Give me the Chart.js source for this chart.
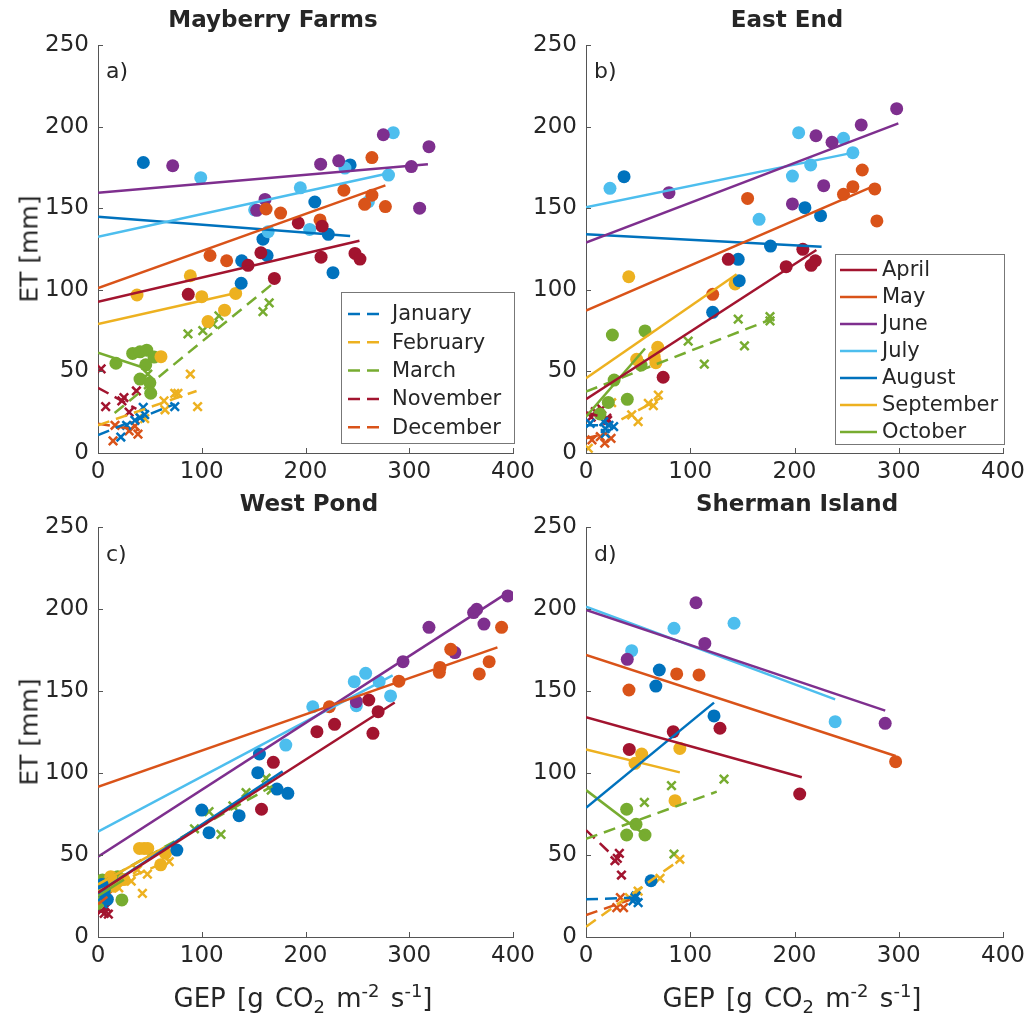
<!DOCTYPE html>
<html>
<head>
<meta charset="utf-8">
<script src="https://cdn.jsdelivr.net/npm/chart.js@4.4.0/dist/chart.umd.min.js"></script>
<style>
  body { margin:0; background:#fff; width:1036px; height:1022px; position:relative; overflow:hidden;
         font-family:"DejaVu Sans", sans-serif; color:#262626; }
  canvas { position:absolute; }
  .ttl { position:absolute; font-weight:bold; font-size:23px; white-space:nowrap; transform:translateX(-50%); }
  .tag { position:absolute; font-size:22px; }
  .ylab { position:absolute; font-size:25px; white-space:nowrap; transform:translate(-50%,-50%) rotate(-90deg); }
  .xlab { position:absolute; font-size:26px; white-space:nowrap; transform:translateX(-50%); word-spacing:3px; }
  .xlab sub, .xlab sup { font-size:18px; }
</style>
</head>
<body>
<canvas id="cA" width="540" height="511" style="left:0;top:0"></canvas>
<canvas id="cB" width="546" height="511" style="left:490px;top:0"></canvas>
<canvas id="cC" width="540" height="532" style="left:0;top:490px"></canvas>
<canvas id="cD" width="546" height="532" style="left:490px;top:490px"></canvas>

<div class="ttl" style="left:273px;top:6px">Mayberry Farms</div>
<div class="ttl" style="left:787px;top:6px">East End</div>
<div class="ttl" style="left:309px;top:490px">West Pond</div>
<div class="ttl" style="left:797px;top:490px">Sherman Island</div>

<div class="tag" style="left:106px;top:58px">a)</div>
<div class="tag" style="left:594px;top:58px">b)</div>
<div class="tag" style="left:106px;top:541px">c)</div>
<div class="tag" style="left:594px;top:541px">d)</div>

<div class="ylab" style="left:29px;top:249px">ET [mm]</div>
<div class="ylab" style="left:29px;top:732px">ET [mm]</div>
<div class="xlab" style="left:303px;top:980px">GEP [g CO<sub>2</sub> m<sup>-2</sup> s<sup>-1</sup>]</div>
<div class="xlab" style="left:792px;top:980px">GEP [g CO<sub>2</sub> m<sup>-2</sup> s<sup>-1</sup>]</div>

<script>
// month keys, names and colours (MATLAB default order)
const monthKeys  = ['Apr','May','Jun','Jul','Aug','Sep','Oct','Jan','Feb','Mar','Nov','Dec'];
const monthNames = ['April','May','June','July','August','September','October','January','February','March','November','December'];
const monthColors = ['#A2142F','#D95319','#7E2F8E','#4DBEEE','#0072BD','#EDB120','#77AC30',
                     '#0072BD','#EDB120','#77AC30','#A2142F','#D95319'];
const growingSeason = ['Apr','May','Jun','Jul','Aug','Sep','Oct'];

const xTicks = [0, 100, 200, 300, 400];
const yTicks = [0, 50, 100, 150, 200, 250];

// [month, GEP, ET]
const mayberryPts = [
  ['Aug',43.7,178],['Aug',243,176.5],['Aug',209,153.8],['Aug',222,134],['Aug',159,131],['Aug',138.5,117.8],['Aug',163,121],['Aug',226.5,110.5],['Aug',138,104],
  ['Jun',72,176],['Jun',214.6,177],['Jun',232,179],['Jun',161,155.4],['Jun',153,148.7],['Jun',275,195],['Jun',319,187.7],['Jun',302,175.5],['Jun',310,150],
  ['Jul',99,168.7],['Jul',238,174.6],['Jul',195,162.5],['Jul',151,149],['Jul',164,135.6],['Jul',204,137],['Jul',284.6,196.3],['Jul',280,170.3],['Jul',260.6,154],
  ['May',237,161],['May',162,149.5],['May',176,147],['May',214,142.8],['May',108,121],['May',124,117.8],['May',264,181],['May',264,158],['May',257,152.4],['May',277,151],
  ['Apr',193,141],['Apr',216,139],['Apr',144.6,115],['Apr',157,122.7],['Apr',215,120],['Apr',247.7,122.3],['Apr',252.5,118.8],['Apr',170,107],['Apr',87,97.2],
  ['Sep',89,108.6],['Sep',37.6,96.8],['Sep',100,95.8],['Sep',132.7,97.8],['Sep',122,87.5],['Sep',106,80.5],['Sep',60.7,59],
  ['Oct',17.3,55],['Oct',33.4,61],['Oct',40.5,62],['Oct',47,63],['Oct',54,58.8],['Oct',46,54],['Oct',40.5,45.3],['Oct',50,43],['Oct',50.8,36.6],
  ['Mar',116.6,84],['Mar',111,79],['Mar',101,75],['Mar',86.7,73],['Mar',159,86.6],['Mar',165,92],['Mar',48,48.4],
  ['Feb',89,48.4],['Feb',74,36.6],['Feb',77,36.6],['Feb',63.6,31.9],['Feb',96,28.4],['Feb',64.6,26.5],['Feb',45,21],
  ['Jan',74,28.4],['Jan',43.6,28],['Jan',45,23.5],['Jan',40.5,21.6],['Jan',35.6,20],['Jan',27.6,17],['Jan',22,9.8],
  ['Nov',3,51.5],['Nov',7.4,28.4],['Nov',25,34],['Nov',23,32],['Nov',37,38],['Nov',30,25],
  ['Dec',16.4,17],['Dec',35.6,16.5],['Dec',38.5,11.6],['Dec',14.5,7.4],['Dec',30,13.5]
];
// [month, x0, y0, x1, y1] fitted lines
const mayberryFits = [
  ['Apr',0,92.7,252,130],['May',0,101,277,164],['Jun',0,159.5,318,177],['Jul',0,132.5,277,171],
  ['Aug',0,144.8,243,133],['Sep',0,79,133,98],['Oct',0,61.5,50,51],
  ['Jan',0,11,74,30],['Feb',0,17,95,38],['Mar',16,24.5,167,103],['Nov',0,40,37,27],['Dec',0,18,40,14]
];

const eastEndPts = [
  ['Jun',298,211],['Jun',264,201],['Jun',220.6,194.4],['Jun',236,190.4],['Jun',228,163.8],['Jun',198,152.6],['Jun',79.6,159.5],
  ['Jul',247,192.8],['Jul',204,196.3],['Jul',256,184],['Jul',215.5,176.5],['Jul',198,169.7],['Jul',166,143.2],['Jul',23,162.2],
  ['May',265,173.4],['May',256,163.2],['May',247,158.5],['May',277,161.8],['May',279,142.2],['May',155,156],['May',121.5,97.2],
  ['Aug',36.5,169.3],['Aug',210,150.3],['Aug',225,145.4],['Aug',177,126.8],['Aug',146,118.7],['Aug',147,105.6],['Aug',121.5,86.2],
  ['Apr',208,124.8],['Apr',136.5,118.7],['Apr',192,114.2],['Apr',216,115],['Apr',220,117.8],['Apr',74,46.4],
  ['Sep',41,108],['Sep',143,103.6],['Sep',48.6,57.4],['Sep',67,55.3],['Sep',65.5,59],['Sep',68.8,64.8],
  ['Oct',25.3,72.3],['Oct',56.6,74.8],['Oct',52.8,53.9],['Oct',27,44.7],['Oct',39.6,32.9],['Oct',21.4,31],['Oct',13.4,23.9],
  ['Mar',98,68.6],['Mar',146,82],['Mar',176.5,83.5],['Mar',176.5,81],['Mar',152,65.7],['Mar',113.5,54.5],
  ['Feb',69.4,35.5],['Feb',59.8,30.4],['Feb',64.6,29],['Feb',43.8,23.3],['Feb',50,19.2],['Feb',24.6,30.8],['Feb',2.2,2.9],
  ['Jan',17,19.2],['Jan',18.5,15],['Jan',26.5,16.1],['Jan',4,18.2],['Jan',18.5,12],['Jan',22,17],
  ['Nov',9,25.3],['Nov',20,21.3],['Nov',20.7,20],['Nov',15,27],['Nov',5,22],
  ['Dec',5.7,8],['Dec',13.7,10],['Dec',24,9],['Dec',18,6]
];
const eastEndFits = [
  ['Apr',0,32.9,221,124.4],['May',0,87.2,277,163.8],['Jun',0,128.9,299.6,202],['Jul',0,150.5,253,183.6],
  ['Aug',0,134,226,126.4],['Sep',0,45.8,144.5,109.5],['Oct',0,22.3,56.6,64],
  ['Jan',0,17,12,17],['Feb',34,20.6,71,33.5],['Mar',0,37.6,178,82],['Nov',0,25,15,22],['Dec',0,9,20,12]
];

const westPondPts = [
  ['Jun',395,208],['Jun',365,199.8],['Jun',362,197.8],['Jun',372,190.8],['Jun',319,188.8],['Jun',344,173.4],['Jun',294,167.9],['Jun',249,143.5],
  ['May',389,188.8],['May',340,175.4],['May',377,167.9],['May',367.5,160.4],['May',329.6,164.4],['May',329,161.4],['May',290,156],['May',223,140.4],
  ['Jul',207,140.4],['Jul',247,155.7],['Jul',258,160.8],['Jul',271,155.7],['Jul',282,147],['Jul',249,141],['Jul',181,117],
  ['Apr',261,144.5],['Apr',270,137.4],['Apr',228,129.7],['Apr',211,125.2],['Apr',265,124.2],['Apr',169,106.5],['Apr',157.6,77.9],
  ['Aug',155.6,111.6],['Aug',154,100.2],['Aug',172.5,90.2],['Aug',183,87.6],['Aug',100,77.4],['Aug',136,74],['Aug',107,63.6],['Aug',76,53],['Aug',6,28.7],['Aug',9,23],['Aug',4,32],
  ['Sep',44.4,54],['Sep',40,54],['Sep',48,54],['Sep',60.4,44],['Sep',65,51],['Sep',12.3,36.8],['Sep',15.5,31],['Sep',25,35],
  ['Oct',4.2,34.8],['Oct',23,22.6],['Oct',0,20.5],['Oct',19,36.8],['Oct',8,30],
  ['Mar',162,96.8],['Mar',142.7,88],['Mar',107,76.4],['Mar',118.5,62.6],['Mar',167,89.6],['Mar',93,66],['Mar',130,80],
  ['Feb',68.6,46],['Feb',47.6,38.4],['Feb',42.8,26.6],['Feb',32,34],['Feb',38,41],['Feb',20,30],
  ['Jan',3,25],['Jan',5,20],['Jan',8,27],
  ['Nov',6,14.4],['Nov',3,16],['Nov',10,14],['Nov',8,18],
  ['Dec',5,22],['Dec',10,26]
];
const westPondFits = [
  ['Apr',0,27,286,143],['May',0,91.6,385,176.6],['Jun',0,49,390,208],['Jul',0,64.2,284,159.5],
  ['Aug',0,27,178,101],['Sep',0,32,65,55],['Oct',0,25,25,35],
  ['Jan',0,22,10,28],['Feb',0,28,70,47],['Mar',0,32,168,92],['Nov',0,15,10,17],['Dec',0,20,10,25]
];

const shermanPts = [
  ['Jun',105.5,203.8],['Jun',114,179],['Jun',39.6,169.3],['Jun',287,130.3],
  ['Jul',142,191.3],['Jul',84.4,188.2],['Jul',43.8,174.6],['Jul',239,131.3],
  ['May',87,160.4],['May',108.4,159.8],['May',41.2,150.6],['May',297,106.9],
  ['Aug',70.3,162.8],['Aug',67,153],['Aug',122.8,134.8],['Aug',62.4,34.3],
  ['Apr',128.5,127.3],['Apr',83.7,125.2],['Apr',41.5,114.4],['Apr',205,87.2],
  ['Sep',53.4,111.6],['Sep',90,115],['Sep',47,105.9],['Sep',85.4,83.1],
  ['Oct',39,77.9],['Oct',48,68.7],['Oct',39,62.2],['Oct',56.6,62.2],
  ['Mar',56,82.1],['Mar',82,92.3],['Mar',132.4,96.3],['Mar',84.4,50.6],
  ['Feb',90,47.4],['Feb',71,35.8],['Feb',41.6,24],['Feb',50,28],
  ['Jan',45,22],['Jan',48,25],['Jan',50,21],['Jan',47,24],
  ['Nov',32,51],['Nov',30,48],['Nov',27.8,46.5],['Nov',34,37.8],
  ['Dec',29.5,17.9],['Dec',36,17.9],['Dec',33,24]
];
const shermanFits = [
  ['Apr',0,134,207,97.4],['May',0,172,297,110.4],['Jun',0,199.4,287,138],['Jul',0,201.4,239,144.9],
  ['Aug',0,78.8,122.8,142.9],['Sep',0,114.4,90,100.4],['Oct',0,89.6,56.6,62.2],
  ['Jan',0,23,47,24],['Feb',0,6.3,90,47],['Mar',0,59.8,125.4,88.6],['Nov',0,65.2,25,50],['Dec',0,13.4,42,22.6]
];

const FONT = 'DejaVu Sans';
const INK = '#262626';

// inward tick marks, MATLAB style
const innerTicks = {
  id: 'innerTicks',
  afterDraw(chart) {
    const {ctx, chartArea: a, scales} = chart;
    ctx.save();
    ctx.strokeStyle = '#555';
    ctx.lineWidth = 1;
    xTicks.forEach(v => {
      const px = Math.round(scales.x.getPixelForValue(v)) + 0.5;
      ctx.beginPath(); ctx.moveTo(px, a.bottom); ctx.lineTo(px, a.bottom - 5); ctx.stroke();
    });
    yTicks.forEach(v => {
      const py = Math.round(scales.y.getPixelForValue(v)) + 0.5;
      ctx.beginPath(); ctx.moveTo(a.left, py); ctx.lineTo(a.left + 5, py); ctx.stroke();
    });
    ctx.restore();
  }
};

// boxed legend drawn inside the axes
const boxLegend = {
  id: 'boxLegend',
  afterDraw(chart, args, opts) {
    if (!opts.keys) return;
    const ctx = chart.ctx;
    const b = opts.box;
    ctx.save();
    ctx.fillStyle = '#fff';
    ctx.fillRect(b.left, b.top, b.right - b.left, b.bottom - b.top);
    ctx.strokeStyle = '#777';
    ctx.lineWidth = 1;
    ctx.strokeRect(b.left + 0.5, b.top + 0.5, b.right - b.left, b.bottom - b.top);
    ctx.font = '21px "' + FONT + '"';
    ctx.textBaseline = 'middle';
    opts.keys.forEach((k, i) => {
      const ds = chart.data.datasets.find(d => d.fitKey === k);
      const y = b.firstRow + i * b.rowStep;
      ctx.strokeStyle = ds.borderColor;
      ctx.lineWidth = ds.borderWidth;
      ctx.setLineDash(ds.borderDash || []);
      ctx.beginPath(); ctx.moveTo(b.lineFrom, y); ctx.lineTo(b.lineTo, y); ctx.stroke();
      ctx.setLineDash([]);
      ctx.fillStyle = INK;
      ctx.fillText(monthNames[monthKeys.indexOf(k)], b.textX, y + 1);
    });
    ctx.restore();
  }
};

function buildDatasets(pts, fits) {
  const sets = [];
  monthKeys.forEach((k, i) => {
    const solid = growingSeason.includes(k);
    const col = monthColors[i];
    sets.push({
      data: pts.filter(p => p[0] === k).map(p => ({x: p[1], y: p[2]})),
      pointStyle: solid ? 'circle' : 'crossRot',
      pointRadius: solid ? 6.5 : 6,
      backgroundColor: col,
      borderColor: col,
      borderWidth: solid ? 0 : 2.5,
      showLine: false,
      order: 2
    });
  });
  monthKeys.forEach((k, i) => {
    const f = fits.find(r => r[0] === k);
    if (!f) return;
    const solid = growingSeason.includes(k);
    sets.push({
      fitKey: k,
      data: [{x: f[1], y: f[2]}, {x: f[3], y: f[4]}],
      showLine: true,
      pointRadius: 0,
      borderColor: monthColors[i],
      backgroundColor: monthColors[i],
      borderWidth: 2.5,
      borderDash: solid ? [] : [12, 7],
      borderCapStyle: 'butt',
      order: 1
    });
  });
  return sets;
}

// off: canvas offset on the page; area: wanted plot box in page coords
function makePanel(id, off, size, area, pts, fits, legend) {
  const axisFont = {family: FONT, size: 23};
  const ctx = document.getElementById(id);
  let leg = {};
  if (legend) {
    const b = Object.assign({}, legend.box);
    ['left','right','lineFrom','lineTo','textX'].forEach(p => b[p] -= off.x);
    ['top','bottom','firstRow'].forEach(p => b[p] -= off.y);
    leg = {keys: legend.keys, box: b};
  }
  new Chart(ctx, {
    type: 'scatter',
    data: {datasets: buildDatasets(pts, fits)},
    plugins: [innerTicks, boxLegend],
    options: {
      responsive: false,
      animation: false,
      layout: {padding: {top: area.top - off.y, right: off.x + size.w - area.right, bottom: 0, left: 0}},
      plugins: {legend: {display: false}, tooltip: {enabled: false}, boxLegend: leg},
      scales: {
        x: {
          type: 'linear', min: 0, max: 400,
          afterFit: s => { s.height = off.y + size.h - area.bottom; },
          afterBuildTicks: s => { s.ticks = xTicks.map(v => ({value: v})); },
          ticks: {color: INK, font: axisFont, padding: 5, maxRotation: 0},
          grid: {display: false, drawTicks: false},
          border: {display: true, color: '#555', width: 1}
        },
        y: {
          type: 'linear', min: 0, max: 250,
          afterFit: s => { s.width = area.left - off.x; },
          afterBuildTicks: s => { s.ticks = yTicks.map(v => ({value: v})); },
          ticks: {color: INK, font: axisFont, padding: 9},
          grid: {display: false, drawTicks: false},
          border: {display: true, color: '#555', width: 1}
        }
      }
    }
  });
}

makePanel('cA', {x: 0, y: 0}, {w: 540, h: 511}, {left: 98, top: 45, right: 513, bottom: 453},
  mayberryPts, mayberryFits,
  {keys: ['Jan','Feb','Mar','Nov','Dec'],
   box: {left: 341, top: 292, right: 514, bottom: 443, firstRow: 314, rowStep: 28.3, lineFrom: 348, lineTo: 386, textX: 392}});
makePanel('cB', {x: 490, y: 0}, {w: 546, h: 511}, {left: 586, top: 45, right: 1003, bottom: 453},
  eastEndPts, eastEndFits,
  {keys: ['Apr','May','Jun','Jul','Aug','Sep','Oct'],
   box: {left: 835, top: 254, right: 1004, bottom: 444, firstRow: 270, rowStep: 27, lineFrom: 840, lineTo: 877, textX: 882}});
makePanel('cC', {x: 0, y: 490}, {w: 540, h: 532}, {left: 98, top: 527, right: 513, bottom: 937},
  westPondPts, westPondFits, null);
makePanel('cD', {x: 490, y: 490}, {w: 546, h: 532}, {left: 586, top: 527, right: 1003, bottom: 937},
  shermanPts, shermanFits, null);
</script>
</body>
</html>
